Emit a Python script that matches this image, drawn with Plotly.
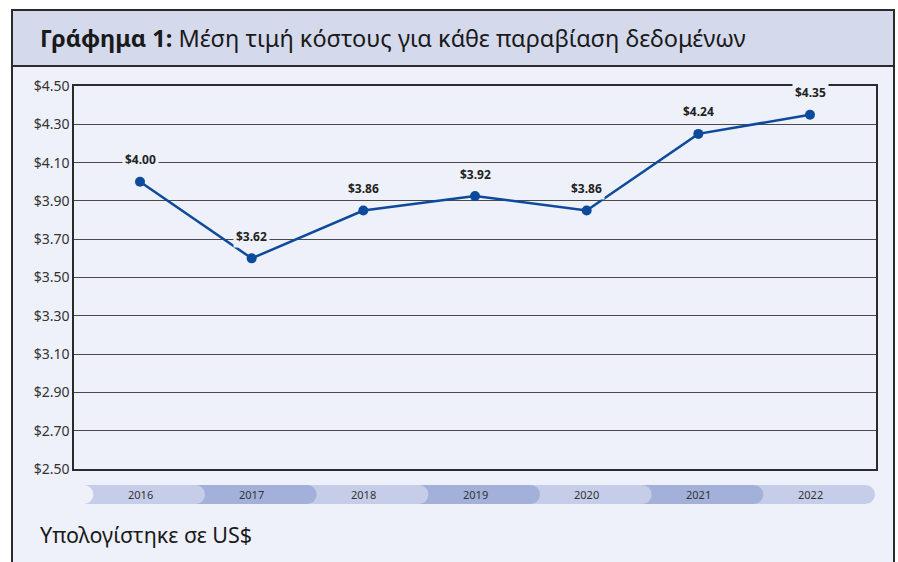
import plotly.graph_objects as go

years = ["2016", "2017", "2018", "2019", "2020", "2021", "2022"]
values = [4.00, 3.60, 3.85, 3.925, 3.85, 4.25, 4.35]
value_labels = ["$4.00", "$3.62", "$3.86", "$3.92", "$3.86", "$4.24", "$4.35"]
y_ticks = [2.5, 2.7, 2.9, 3.1, 3.3, 3.5, 3.7, 3.9, 4.1, 4.3, 4.5]

title_bold = "Γράφημα 1:"
title_rest = "Μέση τιμή κόστους για κάθε παραβίαση δεδομένων"
footnote = "Υπολογίστηκε σε US$"

W, H = 898, 562
ML, MR, MT, MB = 74, 22, 86, 93
PW = W - ML - MR
PH = H - MT - MB

BODY = "#eef1f9"
TITLE_BG = "#d4d9ec"
FRAME = "#2b2b2b"
LINE = "#0e4a9b"
PILL_A = "#c6cde8"
PILL_B = "#a3b1da"
FONT = "Noto Sans"

idx = list(range(len(years)))
XMIN, XMAX = -0.591, 6.591
def fx(v):
    return (v - XMIN) / (XMAX - XMIN)
def px(xpix):
    return (xpix - ML) / PW
def py(ypix):
    return (H - MB - ypix) / PH

fig = go.Figure()
fig.add_trace(go.Scatter(
    x=idx, y=values, mode="lines+markers",
    line=dict(color=LINE, width=2.5),
    marker=dict(color=LINE, size=10),
    hoverinfo="skip", showlegend=False,
))

shapes = []
shapes.append(dict(type="rect", xref="paper", yref="paper",
                   x0=px(12), x1=px(894), y0=py(66), y1=py(H + 5),
                   fillcolor=BODY, line=dict(color=FRAME, width=2), layer="below"))
shapes.append(dict(type="rect", xref="paper", yref="paper",
                   x0=px(12), x1=px(894), y0=py(10), y1=py(66),
                   fillcolor=TITLE_BG, line=dict(color=FRAME, width=2), layer="below"))

r_px = 9.5
r_fr = r_px / PW
off = 0.582
y_top, y_bot = -(485 - (H - MB)), -(504 - (H - MB))
n = len(years)
for i in reversed(range(n)):
    col = PILL_A if i % 2 == 0 else PILL_B
    right = fx(i + off) - r_fr
    left = fx(i - 1 + off) - r_fr
    shapes.append(dict(type="rect", xref="x domain", yref="paper",
                       ysizemode="pixel", yanchor=0, y0=y_bot, y1=y_top,
                       x0=left, x1=right, fillcolor=col, line=dict(width=0), layer="above"))
    shapes.append(dict(type="circle", xref="x domain", yref="paper",
                       xsizemode="pixel", xanchor=right, x0=-r_px, x1=r_px,
                       ysizemode="pixel", yanchor=0, y0=y_bot, y1=y_top,
                       fillcolor=col, line=dict(width=0), layer="above"))
shapes.append(dict(type="circle", xref="x domain", yref="paper",
                   xsizemode="pixel", xanchor=fx(-1 + off) - r_fr, x0=-r_px, x1=r_px,
                   ysizemode="pixel", yanchor=0, y0=y_bot, y1=y_top,
                   fillcolor=BODY, line=dict(width=0), layer="above"))

annotations = []
for i, v, lab in zip(idx, values, value_labels):
    annotations.append(dict(x=i, y=v, xref="x", yref="y", text="<b>" + lab + "</b>",
                            showarrow=False, yshift=22, bgcolor=BODY, borderpad=2,
                            font=dict(family=FONT, size=12, color="#222")))
for i, yr in zip(idx, years):
    annotations.append(dict(x=i, y=0, xref="x", yref="paper", text=yr,
                            showarrow=False, yshift=(y_top + y_bot) / 2, yanchor="middle",
                            font=dict(family=FONT, size=11, color="#333")))
annotations.append(dict(x=px(38), y=py(38), xref="paper", yref="paper",
                        text="<b>" + title_bold + "</b> " + title_rest,
                        showarrow=False, xanchor="left", yanchor="middle",
                        font=dict(family=FONT, size=23.5, color="#1a1a1a")))
annotations.append(dict(x=px(38), y=py(534), xref="paper", yref="paper",
                        text=footnote, showarrow=False, xanchor="left", yanchor="middle",
                        font=dict(family=FONT, size=21.5, color="#1a1a1a")))

fig.update_layout(
    width=W, height=H,
    margin=dict(l=ML, r=MR, t=MT, b=MB),
    paper_bgcolor="white", plot_bgcolor="rgba(0,0,0,0)",
    shapes=shapes, annotations=annotations,
    font=dict(family=FONT),
    xaxis=dict(range=[XMIN, XMAX], showticklabels=False,
               showgrid=False, zeroline=False, showline=True, mirror=True,
               linecolor=FRAME, linewidth=1.5, ticks=""),
    yaxis=dict(range=[2.5, 4.5], tickvals=y_ticks, tickformat="$.2f",
               showgrid=True, gridcolor="#4a4a4a", gridwidth=1, zeroline=False,
               showline=True, mirror=True, linecolor=FRAME, linewidth=1.5,
               ticks="", tickfont=dict(family=FONT, size=14, color="#333")),
)

fig.write_html("out.html")
